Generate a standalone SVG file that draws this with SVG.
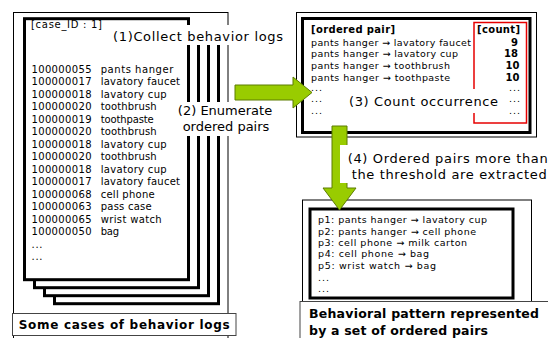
<svg xmlns="http://www.w3.org/2000/svg" width="548" height="338" viewBox="0 0 548 338">
<style>
.thin{fill:#fff;stroke:#000;stroke-width:1}
.page{fill:#fff;stroke:#000;stroke-width:3}
.lbl{fill:#fff;stroke:#444;stroke-width:1}
.bg{fill:#fff;stroke:none}
.t{font-family:"DejaVu Sans",Verdana,sans-serif;fill:#000}
.s10{font-size:10px}
.s9{font-size:9.5px}
.s13{font-size:13px}
.b{font-weight:bold}
.arrow{fill:#99cc00;stroke:#5c7d00;stroke-width:1}
</style>
<rect width="548" height="338" fill="#fff"/>
<g id="behavior-logs">
<rect class="thin" x="13.5" y="12.5" width="214.5" height="330"/>
<rect class="page" x="54.5" y="42.7" width="164" height="261"/>
<rect class="page" x="44.5" y="34.7" width="164" height="261"/>
<rect class="page" x="34.5" y="26.7" width="164" height="261"/>
<rect class="page" x="24.5" y="18.7" width="164" height="261"/>
<text class="t s10" x="31" y="28" textLength="71">[case_ID : 1]</text>
<g class="t s10">
<text x="31.5" y="72.7" textLength="60">100000055</text><text x="100.7" y="72.7" textLength="72.6">pants hanger</text>
<text x="31.5" y="85.2" textLength="60">100000017</text><text x="100.7" y="85.2" textLength="79.3">lavatory faucet</text>
<text x="31.5" y="97.7" textLength="60">100000018</text><text x="100.7" y="97.7" textLength="66">lavatory cup</text>
<text x="31.5" y="110.2" textLength="60">100000020</text><text x="100.7" y="110.2" textLength="56">toothbrush</text>
<text x="31.5" y="122.7" textLength="60">100000019</text><text x="100.7" y="122.7" textLength="53">toothpaste</text>
<text x="31.5" y="135.2" textLength="60">100000020</text><text x="100.7" y="135.2" textLength="56">toothbrush</text>
<text x="31.5" y="147.7" textLength="60">100000018</text><text x="100.7" y="147.7" textLength="66">lavatory cup</text>
<text x="31.5" y="160.2" textLength="60">100000020</text><text x="100.7" y="160.2" textLength="56">toothbrush</text>
<text x="31.5" y="172.7" textLength="60">100000018</text><text x="100.7" y="172.7" textLength="66">lavatory cup</text>
<text x="31.5" y="185.2" textLength="60">100000017</text><text x="100.7" y="185.2" textLength="79.3">lavatory faucet</text>
<text x="31.5" y="197.7" textLength="60">100000068</text><text x="100.7" y="197.7" textLength="54">cell phone</text>
<text x="31.5" y="210.2" textLength="60">100000063</text><text x="100.7" y="210.2" textLength="51">pass case</text>
<text x="31.5" y="222.7" textLength="60">100000065</text><text x="100.7" y="222.7" textLength="61">wrist watch</text>
<text x="31.5" y="235.2" textLength="60">100000050</text><text x="100.7" y="235.2" textLength="18.3">bag</text>
<text x="31.5" y="247.5" textLength="11">...</text>
<text x="31.5" y="259.5" textLength="11">...</text>
</g>
<rect class="lbl" x="12.5" y="313.5" width="223.5" height="22"/>
<text class="t b" x="18.7" y="329" font-size="12" textLength="211">Some cases of behavior logs</text>
</g>
<g id="ordered-pairs">
<rect class="thin" x="296.5" y="12.5" width="240" height="124.5"/>
<rect class="page" x="302.5" y="18.5" width="227.5" height="114"/>
<rect x="474" y="22.5" width="52.5" height="100.5" fill="none" stroke="#e60000" stroke-width="1.5"/>
<text class="t s10 b" x="311" y="33" textLength="84">[ordered pair]</text>
<text class="t s10 b" x="477" y="33" textLength="43">[count]</text>
<g class="t s9">
<text x="311" y="45.5" textLength="160">pants hanger → lavatory faucet</text>
<text x="311" y="57.3" textLength="147">pants hanger → lavatory cup</text>
<text x="311" y="69.2" textLength="139">pants hanger → toothbrush</text>
<text x="311" y="81" textLength="139">pants hanger → toothpaste</text>
<text x="311" y="90.5" textLength="11">...</text>
<text x="311" y="102" textLength="11">...</text>
<text x="311" y="113.5" textLength="11">...</text>
<text x="509" y="90.5" textLength="11">...</text>
<text x="509" y="102" textLength="11">...</text>
<text x="509" y="113.5" textLength="11">...</text>
</g>
<g class="t s10 b" text-anchor="end">
<text x="518" y="45.5">9</text>
<text x="518" y="57.3">18</text>
<text x="519.5" y="69.2">10</text>
<text x="519.5" y="81">10</text>
</g>
</g>
<g id="behavioral-pattern">
<rect class="thin" x="302.5" y="200" width="229" height="140"/>
<rect class="page" x="310" y="209" width="203" height="89"/>
<g class="t s9">
<text x="318" y="223.3" textLength="169">p1: pants hanger → lavatory cup</text>
<text x="318" y="234.6" textLength="158">p2: pants hanger → cell phone</text>
<text x="318" y="246" textLength="149">p3: cell phone → milk carton</text>
<text x="318" y="257.3" textLength="111">p4: cell phone → bag</text>
<text x="318" y="268.7" textLength="118">p5: wrist watch → bag</text>
<text x="318" y="280.5" textLength="11">...</text>
<text x="318" y="291.7" textLength="11">...</text>
</g>
<rect class="lbl" x="300" y="301.5" width="252" height="40"/>
<text class="t b" x="309" y="318" font-size="12.5" textLength="230">Behavioral pattern represented</text>
<text class="t b" x="309" y="334.5" font-size="12.5" textLength="179">by a set of ordered pairs</text>
</g>
<g id="connectors">
<polygon class="arrow" points="235,85 293,85 293,77 312,92.5 293,108 293,100 235,100"/>
<polygon class="arrow" points="332,126 347,126 347,188 356,188 339.5,210 323,188 332,188"/>
</g>
<g id="step-labels">
<rect class="bg" x="112" y="25" width="172" height="20"/>
<text class="t s13" x="113" y="41" textLength="170">(1)Collect behavior logs</text>
<rect class="bg" x="172" y="102" width="106" height="34"/>
<text class="t s13" x="225" y="115" text-anchor="middle">(2) Enumerate</text>
<text class="t s13" x="226" y="130.7" text-anchor="middle">ordered pairs</text>
<rect class="bg" x="346" y="89" width="158" height="24"/>
<text class="t s13" x="349" y="106" textLength="149">(3) Count occurrence</text>
<rect class="bg" x="340" y="145" width="208" height="38"/>
<text class="t s13" x="347.7" y="162.7" textLength="200">(4) Ordered pairs more than</text>
<text class="t s13" x="351.7" y="178.7" textLength="195">the threshold are extracted</text>
</g>
</svg>
